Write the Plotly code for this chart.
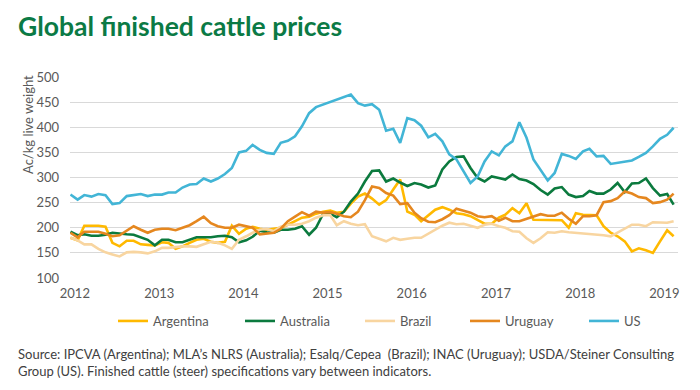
import pandas as pd
import plotly.graph_objects as go

dates = pd.date_range("2012-01-01", periods=87, freq="MS")

argentina = [180,175,204,204,204,202,170,163,174,174,167,166,
             165,171,170,158,163,170,176,178,172,170,172,204,
             188,198,202,198,196,198,200,206,213,220,222,228,
             232,234,230,232,248,262,268,258,246,255,276,296,
             232,226,213,224,236,241,236,229,227,223,216,208,
             208,220,226,239,229,249,216,216,215,216,215,200,
             229,226,225,225,203,190,183,173,153,159,155,150,
             173,195,183]
australia = [192,185,187,184,184,186,190,188,187,186,181,176,
             165,176,176,171,171,176,181,181,181,183,184,181,
             171,175,182,194,191,190,196,196,198,203,186,200,
             228,228,221,232,252,268,292,313,314,292,298,290,
             283,289,286,280,284,316,332,341,342,319,299,292,
             302,299,296,306,297,294,287,275,266,278,281,266,
             261,263,273,268,268,276,289,271,288,289,298,279,
             264,267,246]
brazil = [180,175,167,167,158,151,147,143,151,152,151,149,
          153,160,160,162,163,163,162,167,172,170,165,158,
          176,183,190,196,198,193,202,206,206,208,213,220,
          225,225,205,213,208,205,207,183,178,173,180,176,
          178,180,180,188,197,204,210,207,208,204,200,206,
          208,203,200,193,192,179,170,179,191,190,193,191,
          190,188,187,186,185,183,190,198,206,206,203,211,
          211,210,213]
uruguay = [190,181,192,192,192,188,183,185,195,203,196,190,
           196,198,198,195,200,205,213,222,209,203,200,200,
           206,203,200,187,188,190,198,213,222,231,224,232,
           230,231,228,223,221,232,255,282,279,269,264,247,
           249,230,219,212,211,217,225,238,234,230,223,221,
           223,214,220,213,213,218,223,227,224,224,230,218,
           208,223,223,225,251,253,259,272,268,261,259,249,
           251,256,268]
us = [266,256,265,262,267,265,247,249,263,265,267,263,
      266,266,270,270,280,286,287,298,292,298,307,319,
      350,353,365,355,349,347,369,373,382,402,428,440,
      445,450,455,460,465,448,443,446,435,393,397,369,
      418,414,403,380,387,372,346,336,312,289,302,332,
      352,344,362,372,410,379,336,316,294,309,347,343,
      337,352,357,342,343,327,329,331,334,341,349,362,
      377,385,399]

series_names = ["Argentina", "Australia", "Brazil", "Uruguay", "US"]
series_values = [argentina, australia, brazil, uruguay, us]
colors = ["#FFB900", "#0B7A3E", "#F8D5A0", "#E5871F", "#42B5D6"]

year_labels = ["2012", "2013", "2014", "2015", "2016", "2017", "2018", "2019"]
y_ticks = [100, 150, 200, 250, 300, 350, 400, 450, 500]

FONT = "Lato"
GREY = "#595959"

fig = go.Figure()
legend_ids = ["legend", "legend2", "legend3", "legend4", "legend5"]
for name, vals, col, lg in zip(series_names, series_values, colors, legend_ids):
    fig.add_trace(go.Scatter(x=dates, y=vals, mode="lines", name=name,
                             line=dict(color=col, width=2.6), legend=lg))

# plot area pixels
L, R, T, B = 70, 678, 77, 278
W, H = R - L, B - T

def px_x(px):
    return (px - L) / W

def px_y(py):
    return (B - py) / H

text_starts = [155, 282, 402, 507, 626]
legend_layout = {}
for lg, ts in zip(legend_ids, text_starts):
    legend_layout[lg] = dict(orientation="h", x=px_x(ts - 42), xanchor="left",
                             y=px_y(321), yanchor="middle",
                             font=dict(family=FONT, size=13, color=GREY),
                             bgcolor="rgba(0,0,0,0)", itemwidth=30)

tick_dates = [f"{y}-01-20" for y in year_labels]

fig.update_layout(
    width=700, height=390,
    margin=dict(l=L, r=700 - R, t=T, b=390 - B),
    paper_bgcolor="white", plot_bgcolor="white",
    showlegend=True,
    font=dict(family=FONT, color=GREY),
    xaxis=dict(type="date", range=["2011-12-30", "2019-03-20"],
               tickvals=tick_dates, ticktext=year_labels,
               showgrid=False, zeroline=False, showline=False, ticks="",
               tickfont=dict(family=FONT, size=13, color=GREY),
               ticklabelstandoff=6),
    yaxis=dict(range=[100, 500], tickvals=y_ticks,
               showgrid=True, gridcolor="#D9D9D9", gridwidth=1.3,
               zeroline=False, showline=False, ticks="",
               tickfont=dict(family=FONT, size=13, color=GREY),
               ticklabelstandoff=10),
    **legend_layout,
)

fig.add_annotation(text="<b>Global finished cattle prices</b>",
                   xref="paper", yref="paper", x=px_x(16), y=px_y(26),
                   xanchor="left", yanchor="middle", showarrow=False,
                   font=dict(family=FONT, size=26.5, color="#0B7A45"))
fig.add_annotation(text="Ac/kg live weight", xref="paper", yref="paper",
                   x=px_x(28), y=px_y(124), xanchor="center", yanchor="middle",
                   textangle=-90, showarrow=False,
                   font=dict(family=FONT, size=13, color=GREY))
fig.add_annotation(text="Source: IPCVA (Argentina); MLA’s NLRS (Australia); Esalq/Cepea  (Brazil); INAC (Uruguay); USDA/Steiner Consulting<br>Group (US). Finished cattle (steer) specifications vary between indicators.",
                   xref="paper", yref="paper", x=px_x(16), y=px_y(362),
                   xanchor="left", yanchor="middle", align="left", showarrow=False,
                   font=dict(family=FONT, size=13, color="#404040"))

fig.write_html("out.html", config={"displayModeBar": False},
               post_script="document.body.style.margin='0';document.body.style.overflow='hidden';")
